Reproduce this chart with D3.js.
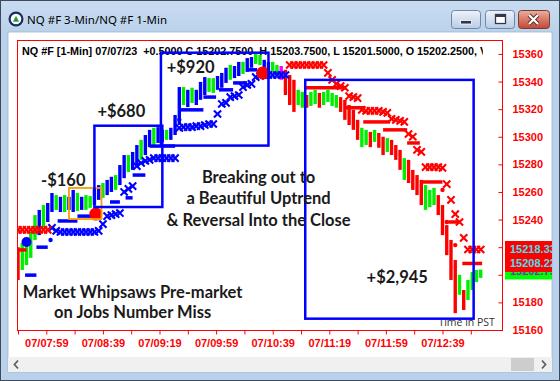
<!DOCTYPE html>
<html><head><meta charset="utf-8">
<script src="https://cdnjs.cloudflare.com/ajax/libs/d3/7.8.5/d3.min.js"></script>
<style>
html,body{margin:0;padding:0;background:#fff;overflow:hidden}
svg{display:block}
</style></head><body>
<svg id="chart" width="560" height="381"></svg>
<script>
// ================= DATA =================
const windowTitle = "NQ #F 3-Min/NQ #F 1-Min";
const headerText = "NQ #F [1-Min] 07/07/23  +0.5000 C 15202.7500, H 15203.7500, L 15201.5000, O 15202.2500, V";
const timeDomain = ["07:38:17", "13:21:03"];
const priceDomain = [15160, 15370.1];
const priceTicks = [15160,15180,15200,15220,15240,15260,15280,15300,15320,15340,15360];
const timeTicks = ["07:39","07:59","08:19","08:39","08:59","09:19","09:39","09:59","10:19","10:39","10:59","11:19","11:39","11:59","12:19","12:39","12:59"];
const timeLabels = ["07:59","08:39","09:19","09:59","10:39","11:19","11:59","12:39"];

// 3-minute price bars
const barStart = "07:39";
const barMinutes = 3;
const barHigh = [15220,15223,15225.25,15231,15243.25,15247,15250.5,15252,15259.25,15257.75,
 15256.5,15257.75,15256.5,15261.5,15259.25,15256.5,15257.75,15257,15263,15265,
 15266.5,15268.75,15271,15272.25,15279.5,15286.75,15286.75,15289,15294,15297.75,
 15301.25,15305,15306.5,15307,15305,15305,15306.5,15315.75,15336,15336,
 15334,15335.5,15334,15339.75,15343.25,15342.5,15342.5,15344,15346.25,15350,
 15352,15351.25,15354.25,15354.25,15357,15357.75,15360.75,15359.25,15355.75,15354.25,
 15354.25,15352,15351.25,15348.5,15344.75,15341.25,15334,15332.5,15330.25,15332.5,
 15334,15331.75,15332.5,15334,15331.75,15330.25,15328.75,15326.75,15323,15319.5,
 15312.25,15306.5,15305,15303.5,15305,15302.75,15300,15299,15297.75,15294,
 15290.5,15284.5,15283.25,15276,15272.25,15268.75,15265,15261.5,15263,15257.75,
 15250.5,15236,15225.25,15210.75,15200,15189,15196.25,15202,15203.5,15203.75];
const barLow = [15196.25,15203.5,15207,15212.25,15225.25,15228.75,15234,15238.25,15245.5,15247,
 15245.5,15245.5,15247,15245.5,15246.25,15247,15247,15248.5,15250.5,15254.25,
 15255.75,15257.75,15260,15261.5,15265,15270,15274.5,15276,15279.5,15283.25,
 15286.75,15292.5,15294,15295.5,15296.25,15297.75,15297.75,15301.25,15308.5,15323,
 15321.5,15324.5,15323,15326.75,15330.25,15332.5,15331.75,15334,15335.5,15339,
 15341.25,15342.5,15344,15345.5,15347,15350,15352.75,15352,15344.75,15342.5,
 15347,15344.75,15341.25,15330.25,15323,15318,15323,15321,15321,15322.25,
 15323.75,15321,15323,15325.25,15322.25,15321,15318,15312.25,15308.5,15305,
 15297.75,15292.5,15294,15292.5,15296.25,15292,15286.75,15289,15286.75,15283.25,
 15276,15268.75,15266.5,15261.5,15257.75,15250.5,15247,15249,15250.5,15243.25,
 15228.75,15214.25,15196.25,15172.25,15185.5,15174.5,15181.75,15189,15194.75,15197.75];
// r = down (red), g = up tick (green), b = uptrend (blue), m = transition (magenta)
const barColor = ("rggggbgbbg" + "bgbbgbggbb" + "gbbgbbgbbg" + "bbgbbgbbbg" + "bgbbbggbbb" +
                  "gbbgbbggbb" + "ggmrrrggrg" + "grggggrrrr" + "rggrgrrgrr" + "rgrrrrgggr" +
                  "rrrrgrgggg").split("");

// 3-min trailing stop markers (X)
const blueStopStart = "08:03";
const blueStops = [15234,15231.75,15231,15231,15231,15231,15231,15231,15231,15231,15231,15231.75,
 15236.75,15242.5,15243.25,15244,15244.75,15260,15262.25,15264.25,15278.75,15281,15282.5,
 15283.25,15284.5,15284.5,15284.5,15284.5,15284.5,15284.5,15306.5,15307,15307,15307,
 15307.75,15307.75,15308.5,15309.25,15309.25,15316.5,15323.75,15324.5,15328.75,15329.5,
 15330.25,15336,15337.5,15338.25,15343.25,15344,15344.75,15344.75,15344.75,15344.75,15344.75,15344.75];
const redStopStartA = "07:39";
const redStopsA = [15232.5,15232.5,15232.5,15232.5,15232.5,15232.5,15232.5,15232.5];
const redStopStartB = "10:51";
const redStopsB = [15352,15352,15352,15352,15352,15352,15352,15352,15352,15346.25,15341.25,
 15338.25,15336.75,15335.5,15329.5,15328.75,15328,15319.5,15318.75,15318.75,15318.75,
 15318.75,15318,15317.25,15313,15312.25,15311.5,15310.75,15302,15300,15290.5,15289,
 15278,15278,15278,15278,15277.5,15265.75,15254.25,15244,15238.25,15226.75,
 15218.33,15218.33,15218.33,15218.33];

// horizontal stop segments [from, to, price]
const blueDashes = [["07:44","07:52",15199.75],["07:52","08:00",15220],["08:07","08:21",15239],
 ["08:21","08:35",15242.5],["08:44","08:51",15252.75],["08:55","09:00",15255.75],
 ["09:00","09:09",15272.25],["09:12","09:30",15293.25],["09:33","09:50",15319.5],
 ["09:50","09:59",15328.75],["10:01","10:11",15334],["10:11","10:21",15339],["10:21","10:28",15348.5]];
const redDashes = [["07:38","07:45",15218],["11:02","11:31",15335.5],["11:30","11:44",15321],
 ["11:43","12:02",15310.75],["11:57","12:14",15305],["12:14","12:23",15295.5],
 ["12:25","12:39",15267.25],["12:43","12:51",15238.25],["12:53","13:07",15208.22]];

const smallDots = [["08:02",15225.25,"#0000ff"],["09:33",15312.25,"#0000ff"],
 ["12:39",15261.5,"#ff0000"],["12:42",15238.25,"#ff0000"],["12:48",15221.5,"#ff0000"]];
const bigDots = [["07:45",15223.75,"#0000ff",5],["08:34",15244,"#ff0000",6.5],["10:32",15346.25,"#ff0000",6.5]];

// annotation boxes [from, to, priceTop, priceBottom, color]
const boxes = [["08:33","09:21",15308,15249.1,"#0000ff"],
 ["09:20","10:36",15360.9,15293.6,"#0000ff"],
 ["11:02","13:01",15341.2,15168.2,"#0000ff"]];
const orangeBox = ["08:15","08:38",15262.9,15240.4,"#f5a000"];

// annotation texts [time, price, text]
const bigTexts = [["08:11",15264.2,"-$160"],["08:52",15314.4,"+$680"],["09:41",15345.9,"+$920"],
 ["12:07",15193.7,"+$2,945"],
 ["10:29",15266.5,"Breaking out to"],["10:29",15251.3,"a Beautiful Uptrend"],["10:29",15235.4,"& Reversal Into the Close"],
 ["09:00",15183.2,"Market Whipsaws Pre-market"],["09:00",15168.7,"on Jobs Number Miss"]];
const footNote = ["13:16",15163,"Time in PST"];

// price labels on the right axis
const priceLabels = [[15202.75,"15202.75","#00ff00","#8030c0"],[15218.33,"15218.33","#ff0000","#40e0f0"],[15208.22,"15208.22","#ff0000","#40e0f0"]];

// ================= DRAW =================
const svg = d3.select("#chart");
const T = s => { const p = s.split(":").map(Number); return new Date(2023,6,7,p[0],p[1],p[2]||0); };
const addMin = (d,m) => new Date(d.getTime() + m*60000);
const x = d3.scaleTime().domain(timeDomain.map(T)).range([17,502]);
const y = d3.scaleLinear().domain(priceDomain).range([330,40]);

const defs = svg.append("defs");
const g1 = defs.append("linearGradient").attr("id","frameG").attr("x1",0).attr("y1",0).attr("x2",0).attr("y2",1);
g1.append("stop").attr("offset","0").attr("stop-color","#c9dcf1");
g1.append("stop").attr("offset","0.09").attr("stop-color","#b9d1ea");
g1.append("stop").attr("offset","1").attr("stop-color","#b9d1ea");
const g2 = defs.append("linearGradient").attr("id","btnG").attr("x1",0).attr("y1",0).attr("x2",0).attr("y2",1);
g2.append("stop").attr("offset","0").attr("stop-color","#eef3fa");
g2.append("stop").attr("offset","0.5").attr("stop-color","#d3dff0");
g2.append("stop").attr("offset","1").attr("stop-color","#b9cce6");
const g3 = defs.append("linearGradient").attr("id","closeG").attr("x1",0).attr("y1",0).attr("x2",0).attr("y2",1);
g3.append("stop").attr("offset","0").attr("stop-color","#eab0a2");
g3.append("stop").attr("offset","0.5").attr("stop-color","#d77a66");
g3.append("stop").attr("offset","1").attr("stop-color","#c2463a");
defs.append("clipPath").attr("id","plotClip").append("rect").attr("x",17).attr("y",40).attr("width",485).attr("height",290);
defs.append("clipPath").attr("id","headClip").append("rect").attr("x",17).attr("y",40).attr("width",466).attr("height",30);
defs.append("clipPath").attr("id","clientClip").append("rect").attr("x",8).attr("y",32).attr("width",544).attr("height",325);

// window frame
svg.append("rect").attr("x",0.5).attr("y",0.5).attr("width",559).attr("height",380)
  .attr("fill","url(#frameG)").attr("stroke","#3d4a5a");
svg.append("rect").attr("x",8).attr("y",32).attr("width",544).attr("height",340).attr("fill","#ffffff")
  .attr("stroke","#9fb5cf").attr("stroke-width",0.8);
// title bar
const ic = svg.append("g").attr("transform","translate(16,19)");
ic.append("circle").attr("r",7.5).attr("fill","#1c2b5e");
ic.append("circle").attr("r",5.3).attr("fill","#ffffff");
ic.append("path").attr("d","M0,-3.2L3,2.8L-3,2.8Z").attr("fill","#1f9d3a");
svg.append("text").attr("x",27).attr("y",23.5).text(windowTitle)
  .attr("font-family","'Noto Sans',sans-serif").attr("font-size",11.5).attr("fill","#000");
// buttons
svg.append("rect").attr("x",451.5).attr("y",10.5).attr("width",29).attr("height",18).attr("rx",3)
  .attr("fill","url(#btnG)").attr("stroke","#6f86a8");
svg.append("rect").attr("x",460.5).attr("y",20.5).attr("width",11).attr("height",3.5).attr("fill","#2e3a4c").attr("stroke","#fff").attr("stroke-width",0.8);
svg.append("rect").attr("x",485.5).attr("y",10.5).attr("width",29).attr("height",18).attr("rx",3)
  .attr("fill","url(#btnG)").attr("stroke","#6f86a8");
svg.append("rect").attr("x",495.5).attr("y",14.5).attr("width",10).attr("height",9).attr("fill","#fff").attr("stroke","#2e3a4c").attr("stroke-width",1.3);
svg.append("rect").attr("x",496).attr("y",15).attr("width",9).attr("height",2).attr("fill","#2e3a4c");
svg.append("rect").attr("x",518.5).attr("y",10.5).attr("width",31).attr("height",18).attr("rx",3)
  .attr("fill","url(#closeG)").attr("stroke","#7c3a30");
svg.append("path").attr("d","M529,15L538,24M538,15L529,24").attr("stroke","#5a2a24").attr("stroke-width",4);
svg.append("path").attr("d","M529,15L538,24M538,15L529,24").attr("stroke","#ffffff").attr("stroke-width",2.2);
// scrollbar
svg.append("rect").attr("x",8).attr("y",357).attr("width",544).attr("height",15).attr("fill","#f0f0f0");
svg.append("rect").attr("x",511).attr("y",358).attr("width",23).attr("height",13).attr("fill","#cdcdcd");
svg.append("path").attr("d","M18,360.5L14.5,364.5L18,368.5").attr("fill","none").attr("stroke","#606060").attr("stroke-width",1.8);
svg.append("path").attr("d","M542,360.5L545.5,364.5L542,368.5").attr("fill","none").attr("stroke","#606060").attr("stroke-width",1.8);

const client = svg.append("g").attr("clip-path","url(#clientClip)");

// header text
client.append("text").attr("x",22).attr("y",55).attr("clip-path","url(#headClip)")
  .attr("xml:space","preserve").style("white-space","pre")
  .attr("font-family","'Liberation Sans',Arial,sans-serif").attr("font-weight","bold").attr("font-size",10.8)
  .attr("fill","#000").text(headerText);

const plot = client.append("g").attr("clip-path","url(#plotClip)");
const colorMap = {r:"#ff0000", g:"#00ee00", b:"#0000ff", m:"#ff00ff"};

// bars
plot.append("g").selectAll("line").data(barHigh.map((h,i)=>({t:addMin(T(barStart),barMinutes*i),h,l:barLow[i],c:barColor[i]})))
  .join("line").attr("x1",d=>x(d.t)).attr("x2",d=>x(d.t)).attr("y1",d=>y(d.h)).attr("y2",d=>y(d.l))
  .attr("stroke",d=>colorMap[d.c]).attr("stroke-width",3.4);

// dashes
const dashG = plot.append("g");
dashG.selectAll(".bd").data(blueDashes).join("line").attr("class","bd")
  .attr("x1",d=>x(T(d[0]))).attr("x2",d=>x(T(d[1]))).attr("y1",d=>y(d[2])).attr("y2",d=>y(d[2]))
  .attr("stroke","#0000ff").attr("stroke-width",3.5);
dashG.selectAll(".rd").data(redDashes).join("line").attr("class","rd")
  .attr("x1",d=>x(T(d[0]))).attr("x2",d=>x(T(d[1]))).attr("y1",d=>y(d[2])).attr("y2",d=>y(d[2]))
  .attr("stroke","#ff0000").attr("stroke-width",3.5);

// X stop markers
const xPath = "M-3.6,-3.6L3.6,3.6M-3.6,3.6L3.6,-3.6";
function stopRun(start, vals, col){
  plot.append("g").selectAll("path").data(vals.map((v,i)=>({t:addMin(T(start),barMinutes*i),v})))
    .join("path").attr("d",xPath).attr("transform",d=>`translate(${x(d.t)},${y(d.v)})`)
    .attr("stroke",col).attr("stroke-width",2.1).attr("fill","none");
}
stopRun(blueStopStart, blueStops, "#0000ff");
stopRun(redStopStartA, redStopsA, "#ff0000");
stopRun(redStopStartB, redStopsB, "#ff0000");

// dots
plot.append("g").selectAll("circle").data(smallDots).join("circle")
  .attr("cx",d=>x(T(d[0]))).attr("cy",d=>y(d[1])).attr("r",2.2).attr("fill",d=>d[2]);
plot.append("g").selectAll("circle").data(bigDots).join("circle")
  .attr("cx",d=>x(T(d[0]))).attr("cy",d=>y(d[1])).attr("r",d=>d[3]).attr("fill",d=>d[2]);

// foot note
client.append("text").attr("x",x(T(footNote[0]))).attr("y",y(footNote[1])).attr("text-anchor","end")
  .attr("font-family","'Open Sans',sans-serif").attr("font-size",10.5).attr("fill","#333").text(footNote[2]);

// boxes
client.append("rect").attr("x",x(T(orangeBox[0]))).attr("y",y(orangeBox[2]))
  .attr("width",x(T(orangeBox[1]))-x(T(orangeBox[0]))).attr("height",y(orangeBox[3])-y(orangeBox[2]))
  .attr("fill","none").attr("stroke",orangeBox[4]).attr("stroke-width",1.8);
client.append("g").selectAll("rect").data(boxes).join("rect")
  .attr("x",d=>x(T(d[0]))).attr("y",d=>y(d[2]))
  .attr("width",d=>x(T(d[1]))-x(T(d[0]))).attr("height",d=>y(d[3])-y(d[2]))
  .attr("fill","none").attr("stroke",d=>d[4]).attr("stroke-width",2.5);

// big annotation texts
client.append("g").selectAll("text").data(bigTexts).join("text")
  .attr("x",d=>x(T(d[0]))).attr("y",d=>y(d[1])).attr("text-anchor","middle")
  .attr("font-family","Lato,'Noto Sans',sans-serif").attr("font-weight","bold").attr("font-size",16.5)
  .attr("fill","#1a1a1a").text(d=>d[2]);

// plot border
client.append("rect").attr("x",17.5).attr("y",40.5).attr("width",485).attr("height",290)
  .attr("fill","none").attr("stroke","#ff0000").attr("stroke-width",1);

// axes
const fmtHM = d3.timeFormat("%H:%M"), fmtFull = d3.timeFormat("%d/%H:%M");
const xAxis = d3.axisBottom(x).tickValues(timeTicks.map(T)).tickSize(4).tickPadding(5)
  .tickFormat(d => timeLabels.includes(fmtHM(d)) ? fmtFull(d) : "");
const gx = client.append("g").attr("transform","translate(0,330.5)").call(xAxis);
const yAxis = d3.axisRight(y).tickValues(priceTicks).tickSize(-4).tickPadding(10).tickFormat(d3.format("d"));
const gy = client.append("g").attr("transform","translate(502.5,0)").call(yAxis);
[gx,gy].forEach(g=>{
  g.select(".domain").remove();
  g.selectAll(".tick line").attr("stroke","#ff0000");
  g.selectAll(".tick text").attr("fill","#ff0000").attr("font-family","'Liberation Sans',Arial,sans-serif")
    .attr("font-weight","bold").attr("font-size",11);
});

// price labels
const pl = client.append("g").selectAll("g").data(priceLabels).join("g")
  .attr("transform",d=>`translate(505,${y(d[0])})`);
pl.append("rect").attr("x",0).attr("y",-8.5).attr("width",60).attr("height",17).attr("fill",d=>d[2]);
pl.append("text").attr("x",5).attr("dy","0.36em").attr("fill",d=>d[3])
  .attr("font-family","'Liberation Sans',Arial,sans-serif").attr("font-weight","bold").attr("font-size",11)
  .text(d=>d[1]);
</script>
</body></html>
